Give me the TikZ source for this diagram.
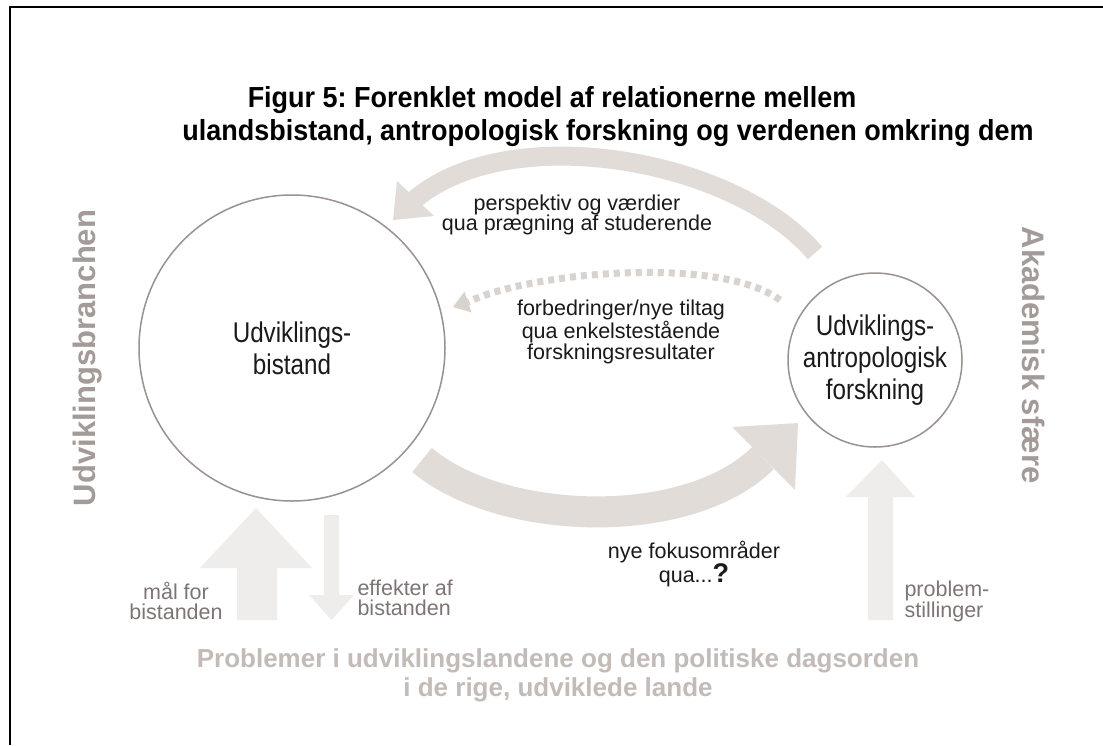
\documentclass[tikz,border=0pt]{standalone}
\usepackage{fontspec}
\setmainfont{Liberation Sans}
\newfontfamily\narrowfont{Liberation Sans}[FakeStretch=0.85]
\newfontfamily\titlefont{Liberation Sans}[FakeStretch=0.93]
\usetikzlibrary{calc}
\definecolor{circcol}{HTML}{9B918E}
\definecolor{arrcol}{HTML}{E2DCD9}
\definecolor{dotcol}{HTML}{D9D3D0}
\definecolor{vertcol}{HTML}{EEEDEB}
\definecolor{sidecol}{HTML}{A39B98}
\definecolor{botcol}{HTML}{C2BBB7}
\definecolor{labcol}{HTML}{7D7573}
\definecolor{inkcol}{HTML}{1A1A1A}
\frenchspacing
\begin{document}
\begin{tikzpicture}[x=1pt,y=-1pt,
  bubble/.style={circle, draw=circcol, line width=1.5pt, inner sep=0pt, align=center,
     font=\narrowfont\fontsize{28.5}{32}\selectfont, text=inkcol},
  titletext/.style={font=\titlefont\bfseries\fontsize{29}{32}\selectfont, text=black, anchor=base},
  labeltext/.style={font=\fontsize{21.5}{20.5}\selectfont, text=inkcol, align=center},
  graylabel/.style={font=\fontsize{21.5}{20}\selectfont, text=labcol},
  sidetext/.style={font=\bfseries\fontsize{31}{36}\selectfont, text=sidecol, anchor=base},
  bottomtext/.style={font=\bfseries\fontsize{26}{29}\selectfont, text=botcol, align=center},
  shaft/.style={draw=arrcol, line cap=butt},
  headfill/.style={fill=arrcol},
  vertarrow/.style={fill=vertcol}
]
\useasboundingbox (0,0) rectangle (1103,745);
\fill[white] (0,0) rectangle (1103,745);
\draw[line width=2pt] (9.5,745) -- (9.5,7) -- (1103,7);

% title
\node[titletext] (t1) at (552,107) {Figur 5: Forenklet model af relationerne mellem};
\node[titletext] (t2) at (608,140) {ulandsbistand, antropologisk forskning og verdenen omkring dem};

% vertical arrows
\fill[vertarrow] (237,620) -- (237,568) -- (200,568) -- (256,508) -- (312,568) -- (277,568) -- (277,620) -- cycle;
\fill[vertarrow] (324,515) -- (339,515) -- (339,595) -- (354,595) -- (331.5,620) -- (309,595) -- (324,595) -- cycle;
\fill[vertarrow] (868,620) -- (868,497) -- (846,497) -- (882,460) -- (915,497) -- (893,497) -- (893,620) -- cycle;

% circles
\node[bubble, minimum size=306pt] (bist) at (292,348) {Udviklings-\\bistand};
\node[bubble, minimum size=174pt] (fors) at (875,360) {Udviklings-\\antropologisk\\forskning};

% top arrow
\coordinate (ta0) at (815,253);
\coordinate (ta1) at (414,200);
\draw[shaft, line width=19pt] (ta0) .. controls (734,158) and (509,119) .. (ta1);
\fill[headfill] (397,181) -- (393,220) -- (434,216) -- cycle;

% dotted arrow
\coordinate (da0) at (780,300);
\coordinate (da1) at (468,302);
\draw[draw=dotcol, line width=7pt, dash pattern=on 6pt off 5pt] (da0) .. controls (720,255) and (530,272) .. (da1);
\fill[fill=dotcol] (464.5,291.6) -- (453,307) -- (471.5,312.4) -- cycle;

% bottom arrow
\coordinate (ba0) at (422,460);
\coordinate (ba1) at (763,458);
\draw[shaft, line width=31pt] (ba0) .. controls (502,527) and (689,532) .. (ba1);
\fill[headfill] (732,427) -- (798,423) -- (795,490) -- cycle;

% labels
\node[labeltext] (l1) at (577,215) {perspektiv og værdier\\qua prægning af studerende};
\node[labeltext] (l2) at (621,332) {forbedringer/nye tiltag\\qua enkelstestående\\forskningsresultater};
\node[labeltext] (l3) at (694,564) {nye fokusområder\\qua...{\bfseries\fontsize{27}{27}\selectfont ?}};
\node[graylabel, align=center] (l4) at (176,601) {mål for\\bistanden};
\node[graylabel, align=left, anchor=west] (l5) at (354,598) {effekter af\\bistanden};
\node[graylabel, align=left, anchor=west] (l6) at (901,601) {problem-\\stillinger};

% side texts
\node[sidetext, rotate=90] (s1) at (95,358) {Udviklingsbranchen};
\node[sidetext, rotate=-90] (s2) at (1022,355) {Akademisk sfære};

% bottom text
\node[bottomtext] (b1) at (558,675) {Problemer i udviklingslandene og den politiske dagsorden\\i de rige, udviklede lande};
\end{tikzpicture}
\end{document}
